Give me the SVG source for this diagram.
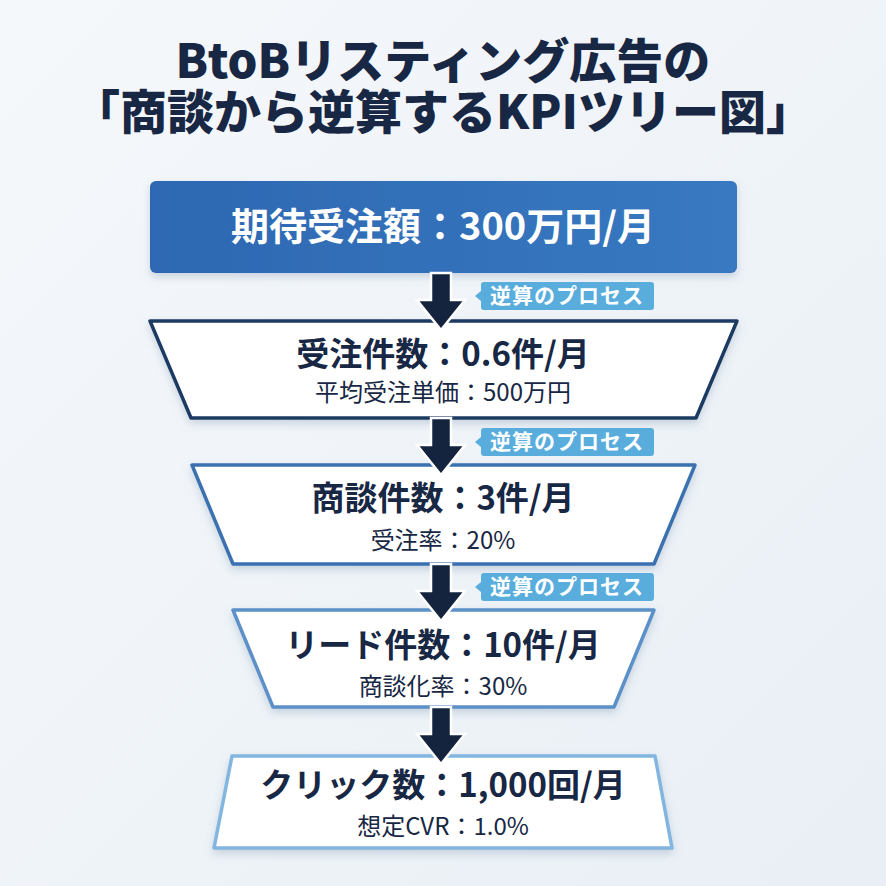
<svg xmlns="http://www.w3.org/2000/svg" width="886" height="886" viewBox="0 0 886 886">
  <defs>
    <linearGradient id="bg" x1="0" y1="0" x2="1" y2="1">
      <stop offset="0" stop-color="#f5f8fb"/>
      <stop offset="1" stop-color="#e9eff5"/>
    </linearGradient>
    <linearGradient id="topg" x1="0" y1="0" x2="1" y2="0">
      <stop offset="0" stop-color="#2d68b2"/>
      <stop offset="1" stop-color="#3879c1"/>
    </linearGradient>
    <filter id="sh" x="-10%" y="-20%" width="120%" height="150%">
      <feDropShadow dx="0" dy="4" stdDeviation="4" flood-color="#6a84a3" flood-opacity="0.3"/>
    </filter>
    <symbol id="arrow" overflow="visible">
      <path d="M-10,0 L10,0 L10,27 L24,27 L0,57 L-24,27 L-10,27 Z"/>
    </symbol>
    <style>
      text { font-family: "Noto Sans CJK JP", "Noto Sans", sans-serif; text-anchor: middle; }
      .title { font-size: 47px; font-weight: 900; fill: #172744; }
      .toptext { font-size: 38px; font-weight: 700; fill: #ffffff; }
      .main { font-size: 33px; font-weight: 700; fill: #172744; }
      .sub { font-size: 24px; font-weight: 400; fill: #172744; }
      .lbl { font-size: 21px; font-weight: 700; fill: #ffffff; letter-spacing: 1px; }
      .lblbox { fill: #59addd; }
      .trap { fill: #ffffff; stroke-width: 3.5; stroke-linejoin: round; filter: url(#sh); }
      .arr { fill: #14243f; stroke: #ffffff; stroke-width: 2.5; stroke-linejoin: miter; }
    </style>
  </defs>
  <rect x="0" y="0" width="886" height="886" fill="url(#bg)"/>

  <g id="title">
    <text class="title" x="443" y="78">BtoBリスティング広告の</text>
    <text class="title" x="443" y="129">「商談から逆算するKPIツリー図」</text>
  </g>

  <g id="node-target">
    <rect x="150" y="181" width="587" height="92" rx="6" fill="url(#topg)" filter="url(#sh)"/>
    <text class="toptext" x="443" y="240">期待受注額：300万円/月</text>
  </g>

  <g id="node-orders">
    <path class="trap" d="M150,321 L737,321 L696,418 L191,418 Z" stroke="#1e3a63"/>
    <text class="main" x="443" y="366">受注件数：0.6件/月</text>
    <text class="sub" x="443" y="401">平均受注単価：500万円</text>
  </g>

  <g id="node-meetings">
    <path class="trap" d="M192,465 L695,465 L654,564 L233,564 Z" stroke="#3a71b0"/>
    <text class="main" x="443" y="510">商談件数：3件/月</text>
    <text class="sub" x="443" y="549">受注率：20%</text>
  </g>

  <g id="node-leads">
    <path class="trap" d="M233,610 L654,610 L614,707 L273,707 Z" stroke="#5b90c8"/>
    <text class="main" x="443" y="657">リード件数：10件/月</text>
    <text class="sub" x="443" y="695">商談化率：30%</text>
  </g>

  <g id="node-clicks">
    <path class="trap" d="M232,756 L655,756 L672,848 L214,848 Z" stroke="#82b5df"/>
    <text class="main" x="443" y="797">クリック数：1,000回/月</text>
    <text class="sub" x="443" y="835">想定CVR：1.0%</text>
  </g>

  <g id="connectors">
    <use href="#arrow" class="arr" x="441" y="273"/>
    <use href="#arrow" class="arr" x="441" y="418"/>
    <use href="#arrow" class="arr" x="441" y="564"/>
    <use href="#arrow" class="arr" x="441" y="707"/>
  </g>

  <g id="labels">
    <g id="label-1">
      <path class="lblbox" d="M484,282 L651,282 Q654,282 654,285 L654,307 Q654,310 651,310 L484,310 Q481,310 481,307 L481,301 L475,296 L481,291 L481,285 Q481,282 484,282 Z"/>
      <text class="lbl" x="567" y="303">逆算のプロセス</text>
    </g>
    <g id="label-2">
      <path class="lblbox" d="M484,428 L651,428 Q654,428 654,431 L654,453 Q654,456 651,456 L484,456 Q481,456 481,453 L481,447 L475,442 L481,437 L481,431 Q481,428 484,428 Z"/>
      <text class="lbl" x="567" y="449">逆算のプロセス</text>
    </g>
    <g id="label-3">
      <path class="lblbox" d="M484,573 L651,573 Q654,573 654,576 L654,598 Q654,601 651,601 L484,601 Q481,601 481,598 L481,592 L475,587 L481,582 L481,576 Q481,573 484,573 Z"/>
      <text class="lbl" x="567" y="594">逆算のプロセス</text>
    </g>
  </g>
</svg>
